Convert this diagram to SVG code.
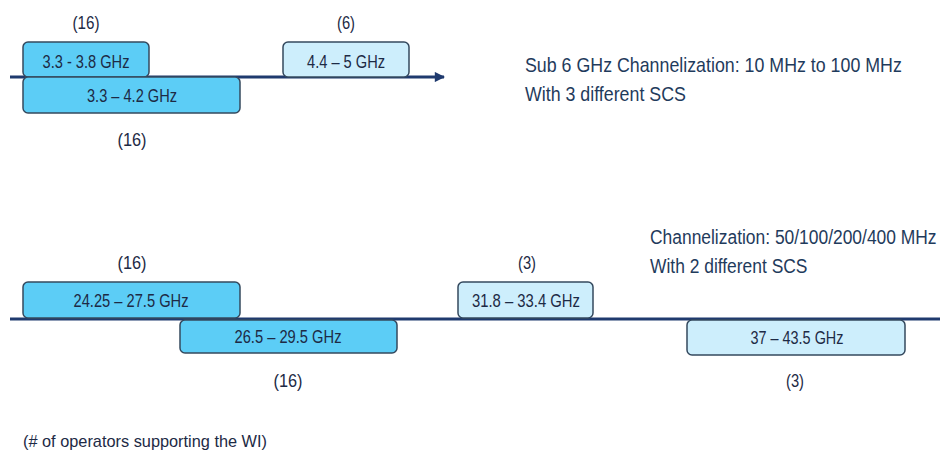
<svg xmlns="http://www.w3.org/2000/svg" width="940" height="459" viewBox="0 0 940 459">
<defs>
<style>
.t{font-family:"Liberation Sans",Arial,sans-serif;fill:#1d2a45;}
.lbl{font-size:18px;text-anchor:middle;}
.cnt{font-size:19px;text-anchor:middle;}
.note{font-size:21px;fill:#1f3b5c;}
.b1{fill:#5ccdf6;stroke:#34495e;stroke-width:1.5;}
.b2{fill:#cdeefc;stroke:#34495e;stroke-width:1.5;}
.ax{stroke:#1f3a6e;stroke-width:3;fill:none;}
</style>
<marker id="arr" viewBox="0 0 10 10" refX="9" refY="5" markerWidth="4" markerHeight="3.4" orient="auto" markerUnits="strokeWidth">
<path d="M0,0 L10,5 L0,10 Z" fill="#1f3a6e"/>
</marker>
</defs>
<rect width="940" height="459" fill="#ffffff"/>
<g id="connectors">
<line class="ax" x1="10" y1="77" x2="444" y2="77" marker-end="url(#arr)"/>
<line class="ax" x1="10" y1="319" x2="940" y2="319"/>
</g>
<g id="n-3.3-3.8">
<rect class="b1" x="23" y="42" width="126" height="35" rx="5"/>
<text class="t lbl" x="86" y="68" textLength="87" lengthAdjust="spacingAndGlyphs">3.3 - 3.8 GHz</text>
<text class="t cnt" x="86" y="29" textLength="27" lengthAdjust="spacingAndGlyphs">(16)</text>
</g>
<g id="n-3.3-4.2">
<rect class="b1" x="23" y="77" width="217" height="36" rx="5"/>
<text class="t lbl" x="132" y="102" textLength="90" lengthAdjust="spacingAndGlyphs">3.3 – 4.2 GHz</text>
<text class="t cnt" x="132" y="146" textLength="29" lengthAdjust="spacingAndGlyphs">(16)</text>
</g>
<g id="n-4.4-5">
<rect class="b2" x="283" y="42" width="126" height="35" rx="5"/>
<text class="t lbl" x="346" y="68" textLength="78" lengthAdjust="spacingAndGlyphs">4.4 – 5 GHz</text>
<text class="t cnt" x="346" y="29" textLength="18" lengthAdjust="spacingAndGlyphs">(6)</text>
</g>
<g id="note-sub6">
<text class="t note" transform="translate(525,72) scale(0.848,1)">Sub 6 GHz Channelization: 10 MHz to 100 MHz</text>
<text class="t note" transform="translate(525,101) scale(0.848,1)">With 3 different SCS</text>
</g>
<g id="n-24.25-27.5">
<rect class="b1" x="23" y="282" width="217" height="36" rx="5"/>
<text class="t lbl" x="131" y="307" textLength="115" lengthAdjust="spacingAndGlyphs">24.25 – 27.5 GHz</text>
<text class="t cnt" x="132" y="269" textLength="29" lengthAdjust="spacingAndGlyphs">(16)</text>
</g>
<g id="n-26.5-29.5">
<rect class="b1" x="180" y="320" width="217" height="33" rx="5"/>
<text class="t lbl" x="288" y="343" textLength="107" lengthAdjust="spacingAndGlyphs">26.5 – 29.5 GHz</text>
<text class="t cnt" x="288" y="387" textLength="29" lengthAdjust="spacingAndGlyphs">(16)</text>
</g>
<g id="n-31.8-33.4">
<rect class="b2" x="458" y="282" width="135" height="36" rx="5"/>
<text class="t lbl" x="526" y="307" textLength="108" lengthAdjust="spacingAndGlyphs">31.8 – 33.4 GHz</text>
<text class="t cnt" x="527" y="269" textLength="18" lengthAdjust="spacingAndGlyphs">(3)</text>
</g>
<g id="n-37-43.5">
<rect class="b2" x="687" y="320" width="218" height="35" rx="5"/>
<text class="t lbl" x="797" y="344" textLength="93" lengthAdjust="spacingAndGlyphs">37 – 43.5 GHz</text>
<text class="t cnt" x="795" y="387" textLength="18" lengthAdjust="spacingAndGlyphs">(3)</text>
</g>
<g id="note-mmw">
<text class="t note" transform="translate(650,244) scale(0.83,1)">Channelization: 50/100/200/400 MHz</text>
<text class="t note" transform="translate(650,273) scale(0.83,1)">With 2 different SCS</text>
</g>
<g id="footnote">
<text class="t" x="23" y="447" font-size="17" textLength="244" lengthAdjust="spacingAndGlyphs">(# of operators supporting the WI)</text>
</g>
</svg>
